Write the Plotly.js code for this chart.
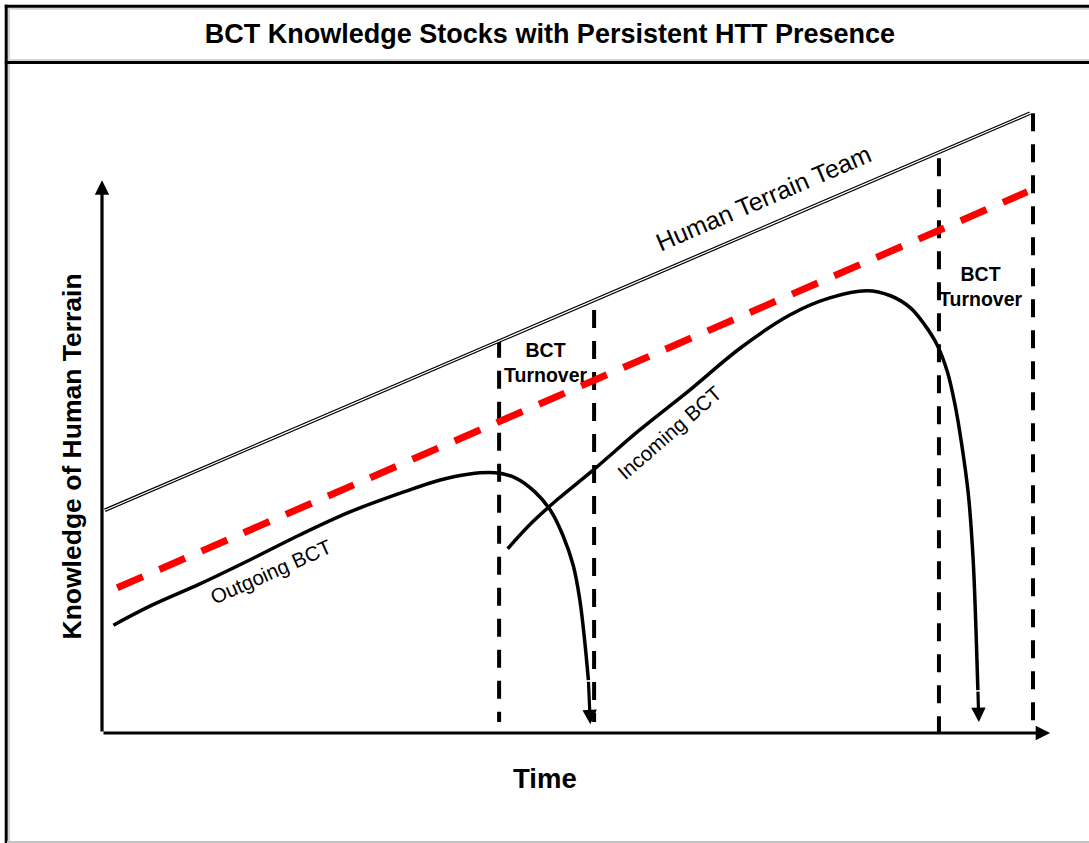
<!DOCTYPE html>
<html>
<head>
<meta charset="utf-8">
<script src="https://cdn.plot.ly/plotly-3.0.1.min.js"></script>
<style>html,body{margin:0;padding:0;background:#fff;}#chart{width:1089px;height:843px;}</style>
</head>
<body>
<div id="chart"></div>
<script>
// ---- Data (conceptual units: time 0..100, knowledge 0..100) ----
const httTime = [0.3, 97.7];
const httKnowledge = [40.5, 112.7];

const persistentTime = [1.6, 97.4];
const persistentKnowledge = [26.4, 98.4];

const outgoingTime = [1.2, 5.1, 10.3, 15.6, 20.8, 26.1, 31.4, 35.6, 38.7, 41.4, 43.5, 45.6, 47.2, 48.5, 49.6, 50.3, 50.8, 51.2, 51.4];
const outgoingKnowledge = [19.6, 23.1, 27.1, 31.5, 36.0, 40.2, 43.6, 46.0, 47.1, 47.3, 46.4, 43.8, 40.5, 36.0, 30.5, 24.2, 16.9, 9.6, 1.6];

const incomingTime = [42.7, 45.1, 47.9, 51.7, 56.6, 61.9, 67.2, 72.4, 76.6, 80.5, 83.0, 85.1, 86.6, 87.9, 89.0, 89.8, 90.5, 91.2, 91.7, 92.0, 92.2, 92.3];
const incomingKnowledge = [33.5, 38.0, 42.4, 47.8, 55.1, 62.4, 70.0, 76.0, 79.1, 80.4, 79.5, 77.3, 74.2, 70.6, 65.6, 59.6, 52.4, 43.3, 31.5, 18.7, 7.8, 2.0];

const turnoverTime = [41.8, 51.8, 88.1, 98.0];
const turnoverTop = [71.5, 76.9, 104.5, 112.7];
const turnoverBottom = [2.0, 2.0, 0.0, 2.0];

const titleText = "BCT Knowledge Stocks with Persistent HTT Presence";
const xTitle = "Time";
const yTitle = "Knowledge of Human Terrain";
const httLabel = "Human Terrain Team";
const outgoingLabel = "Outgoing BCT";
const incomingLabel = "Incoming BCT";
const turnoverLabel = "BCT<br>Turnover";

// ---- Build traces ----
const tx = [], ty = [];
turnoverTime.forEach((t, i) => { tx.push(t, t, null); ty.push(turnoverTop[i], turnoverBottom[i], null); });

const FONT = "Liberation Sans, Arial, sans-serif";

const traces = [
  {x: tx, y: ty, mode: 'lines', line: {color: '#000', width: 4, dash: '18px,13px'}, hoverinfo: 'skip'},
  {x: httTime, y: httKnowledge, mode: 'lines', line: {color: '#000', width: 3.6}, hoverinfo: 'skip'},
  {x: httTime, y: httKnowledge, mode: 'lines', line: {color: '#fff', width: 1.2}, hoverinfo: 'skip'},
  {x: persistentTime, y: persistentKnowledge, mode: 'lines', line: {color: '#ff0000', width: 7, dash: '28px,18px'}, hoverinfo: 'skip'},
  {x: outgoingTime.slice(0, -1), y: outgoingKnowledge.slice(0, -1), mode: 'lines', line: {color: '#000', width: 3.5, shape: 'spline', smoothing: 1}, hoverinfo: 'skip'},
  {x: incomingTime.slice(0, -1), y: incomingKnowledge.slice(0, -1), mode: 'lines', line: {color: '#000', width: 3.5, shape: 'spline', smoothing: 1}, hoverinfo: 'skip'}
];

const n1 = outgoingTime.length, n2 = incomingTime.length;
function arrow(x, y, ax, ay, size) {
  return {x: x, y: y, ax: ax, ay: ay, xref: 'x', yref: 'y', axref: 'x', ayref: 'y', text: '', showarrow: true,
          arrowhead: 2, arrowsize: size, arrowwidth: 3.2, arrowcolor: '#000', standoff: 0, startstandoff: 0};
}
function label(x, y, text, size, angle, bold) {
  return {x: x, y: y, xref: 'x', yref: 'y', text: text, showarrow: false, textangle: angle,
          font: {family: FONT, size: size, color: '#000', weight: bold ? 'bold' : 'normal'},
          xanchor: 'center', yanchor: 'middle'};
}

const annotations = [
  // axes
  arrow(0, 100.5, 0, 0, 0.9),
  arrow(99.8, 0, 0, 0, 0.9),
  // curve arrowheads
  arrow(outgoingTime[n1 - 1], outgoingKnowledge[n1 - 1], outgoingTime[n1 - 2], outgoingKnowledge[n1 - 2], 0.9),
  arrow(incomingTime[n2 - 1], incomingKnowledge[n2 - 1], incomingTime[n2 - 2], incomingKnowledge[n2 - 2], 0.9),
  // labels
  label(69.6, 97.2, httLabel, 25, -23.2, false),
  label(17.8, 29.3, outgoingLabel, 20.5, -24, false),
  label(59.7, 54.7, incomingLabel, 20.5, -41, false),
  label(46.7, 67.3, turnoverLabel, 19.5, 0, true),
  label(92.5, 81.1, turnoverLabel, 19.5, 0, true),
  label(46.6, -8.2, xTitle, 27.5, 0, true),
  label(-3.2, 50.2, yTitle, 26.5, -90, true)
];

const W = 1089, H = 843;
const px = v => v / W, py = v => 1 - v / H;
const shapes = [
  {type: 'line', xref: 'paper', yref: 'paper', x0: px(9), x1: px(9), y0: 0, y1: py(8), line: {color: '#d4d4d4', width: 2}},
  {type: 'line', xref: 'paper', yref: 'paper', x0: px(8), x1: 1, y0: py(8.8), y1: py(8.8), line: {color: '#d4d4d4', width: 2}},
  {type: 'line', xref: 'paper', yref: 'paper', x0: px(8), x1: 1, y0: py(60), y1: py(60), line: {color: '#d4d4d4', width: 2}},
  {type: 'line', xref: 'paper', yref: 'paper', x0: px(6.2), x1: px(6.2), y0: 0, y1: py(4.8), line: {color: '#000', width: 3}},
  {type: 'line', xref: 'paper', yref: 'paper', x0: px(4.8), x1: 1, y0: py(6.2), y1: py(6.2), line: {color: '#000', width: 3}},
  {type: 'line', xref: 'paper', yref: 'paper', x0: px(4.8), x1: 1, y0: py(62.5), y1: py(62.5), line: {color: '#000', width: 3}},
  {type: 'line', xref: 'paper', yref: 'paper', x0: px(7), x1: 1, y0: py(842), y1: py(842), line: {color: '#c4c4c4', width: 2}}
];

const layout = {
  width: W, height: H,
  margin: {l: 0, r: 0, t: 0, b: 0, pad: 0},
  paper_bgcolor: '#fff', plot_bgcolor: '#fff',
  showlegend: false,
  title: {text: titleText, x: 0.505, xanchor: 'center', y: py(34), yanchor: 'middle',
          font: {family: FONT, size: 27, color: '#000', weight: 'bold'}},
  xaxis: {range: [-102 / 9.5, (W - 102) / 9.5], visible: false, fixedrange: true},
  yaxis: {range: [-(H - 733) / 5.5, 733 / 5.5], visible: false, fixedrange: true},
  shapes: shapes,
  annotations: annotations
};

Plotly.newPlot('chart', traces, layout, {displayModeBar: false, staticPlot: true});
</script>
</body>
</html>
